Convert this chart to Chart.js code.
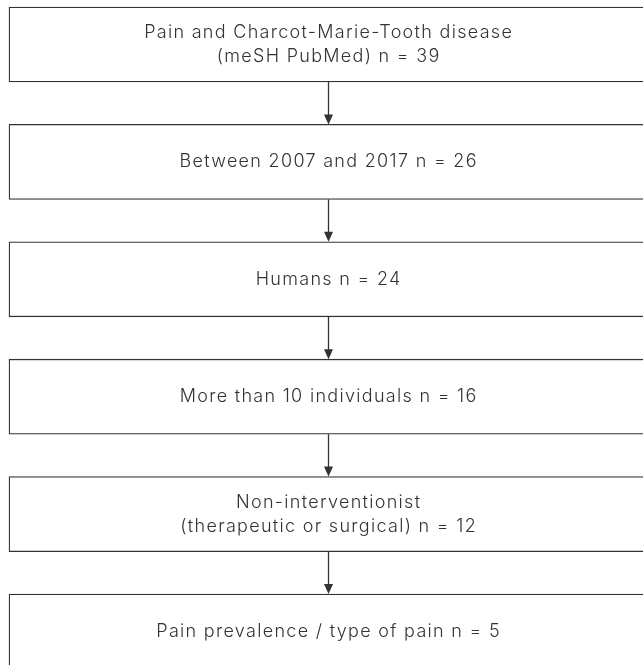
<!DOCTYPE html>
<html><head><meta charset="utf-8">
<script src="https://cdn.jsdelivr.net/npm/chart.js@4"></script>
<style>html,body{margin:0;padding:0;background:#fff;overflow:hidden}#wrap{width:643px;height:665px}</style>
</head><body><div id="wrap"><canvas id="c" width="643" height="665"></canvas></div>
<script>
// Flow steps (text lines per box) and the count at each step
const stepLines = [
  ["Pain and Charcot-Marie-Tooth disease", "(meSH PubMed)"],
  ["Between 2007 and 2017"],
  ["Humans"],
  ["More than 10 individuals"],
  ["Non-interventionist", "(therapeutic or surgical)"],
  ["Pain prevalence / type of pain"]
];
const stepCounts = [39, 26, 24, 16, 12, 5];
const stepIds = ["s1", "s2", "s3", "s4", "s5", "s6"];
const boxRange = [0, 1.0063];

const LINE_COLOR = '#333333';
const TEXT_COLOR = '#333333';
const FONT = '300 18px Inter, "Noto Sans", sans-serif';

const flowPlugin = {
  id: 'flow',
  afterDatasetsDraw(chart) {
    const ctx = chart.ctx;
    const bars = chart.getDatasetMeta(0).data;
    ctx.save();
    // arrows
    ctx.strokeStyle = LINE_COLOR;
    ctx.fillStyle = LINE_COLOR;
    ctx.lineWidth = 1.3;
    for (let i = 0; i < bars.length - 1; i++) {
      const a = bars[i], b = bars[i + 1];
      const cx = Math.round((a.x + a.base) / 2) + 0.5;
      const y0 = a.y + a.height / 2;
      const y1 = b.y - b.height / 2;
      ctx.beginPath();
      ctx.moveTo(cx, y0);
      ctx.lineTo(cx, y1 - 8);
      ctx.stroke();
      ctx.beginPath();
      ctx.moveTo(cx, y1);
      ctx.lineTo(cx - 4.5, y1 - 10);
      ctx.lineTo(cx + 4.5, y1 - 10);
      ctx.closePath();
      ctx.fill();
    }
    // text
    ctx.font = FONT;
    if ('letterSpacing' in ctx) ctx.letterSpacing = '1.3px';
    ctx.fillStyle = TEXT_COLOR;
    ctx.textAlign = 'center';
    ctx.textBaseline = 'middle';
    const lh = 24;
    bars.forEach((el, i) => {
      const lines = stepLines[i].slice();
      lines[lines.length - 1] = lines[lines.length - 1] + ' n = ' + stepCounts[i];
      const cx = (el.x + el.base) / 2 + 0.65;
      const startY = el.y - (lines.length - 1) * lh / 2;
      lines.forEach((t, j) => ctx.fillText(t, cx, startY + j * lh));
    });
    ctx.restore();
  }
};

new Chart(document.getElementById('c'), {
  type: 'bar',
  data: {
    labels: stepIds,
    datasets: [{
      data: stepCounts.map(() => boxRange.slice()),
      backgroundColor: '#ffffff',
      borderColor: LINE_COLOR,
      borderWidth: 1.3,
      borderSkipped: false,
      barThickness: 75,
      clip: false
    }]
  },
  options: {
    indexAxis: 'y',
    responsive: false,
    animation: false,
    layout: { padding: { left: 9, right: 0, top: 44.5, bottom: 33.5 } },
    scales: {
      x: { type: 'linear', min: 0, max: 1, display: false },
      y: { type: 'category', offset: false, display: false }
    },
    plugins: { legend: { display: false }, tooltip: { enabled: false } }
  },
  plugins: [flowPlugin]
});
</script></body></html>
